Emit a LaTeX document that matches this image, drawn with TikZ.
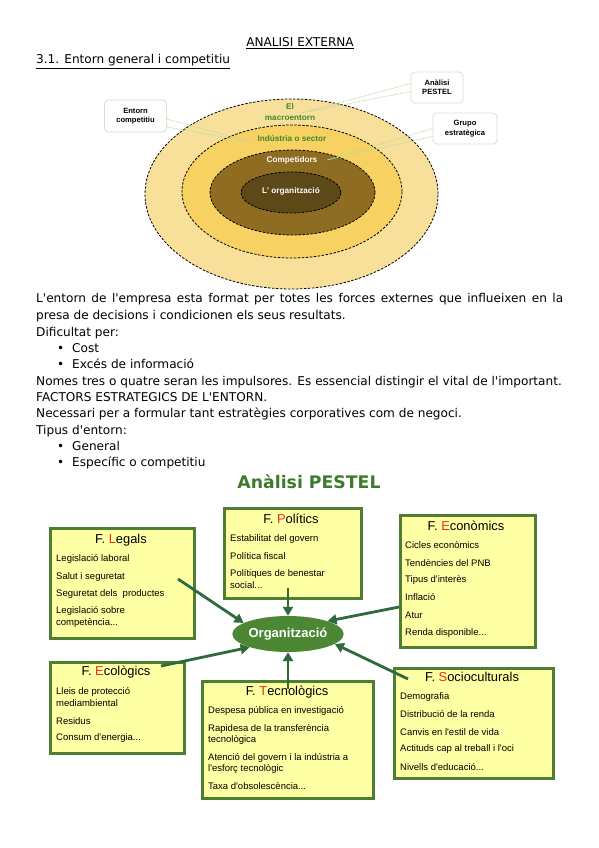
\documentclass[tikz,border=0pt]{standalone}
\usepackage{fontspec}
\setmainfont{DejaVu Sans}
\newfontfamily\arial{Liberation Sans}
\usetikzlibrary{arrows.meta,shapes.geometric,calc}
\definecolor{boxfill}{HTML}{FFFFA3}
\definecolor{boxline}{HTML}{4E7D34}
\definecolor{arrowc}{HTML}{2D6A3E}
\definecolor{redl}{HTML}{E8301C}
\definecolor{titleg}{HTML}{3D7B2C}
\definecolor{orgfill}{HTML}{4C8733}
\definecolor{ringA}{HTML}{F9E09A}
\definecolor{ringB}{HTML}{F7D161}
\definecolor{ringC}{HTML}{8E6C22}
\definecolor{ringD}{HTML}{5D4817}
\definecolor{labg}{HTML}{3C8C2A}
\definecolor{callb}{HTML}{D3E3CB}
\definecolor{calll}{HTML}{B5D8A5}
\newcommand\ap{\textquotesingle}
\begin{document}
\begin{tikzpicture}[x=1pt,y=-1pt,
  bodytext/.style={anchor=base west,inner sep=0pt,font=\fontsize{12.1}{14}\selectfont},
  ring/.style={ellipse,draw=black,dash pattern=on 2.5pt off 1.5pt,line width=0.8pt,inner sep=0pt},
  ringlab/.style={inner sep=0pt,font=\arial\bfseries\fontsize{8.2}{9}\selectfont},
  callbox/.style={draw=callb,line width=0.8pt,rounded corners=4pt,fill=white,align=center,inner sep=0pt,font=\arial\bfseries\fontsize{7.6}{9.4}\selectfont},
  callline/.style={draw=calll,dash pattern=on 2pt off 1pt,line width=0.6pt},
  fbox/.style={draw=boxline,line width=3.2pt,fill=boxfill,anchor=north west,inner sep=0pt},
  ftitle/.style={inner sep=0pt,font=\arial\fontsize{12.9}{14}\selectfont},
  fitem/.style={anchor=west,inner sep=0pt,font=\arial\fontsize{9.5}{10}\selectfont},
  farrow/.style={draw=arrowc,line width=2.8pt,-{Triangle[length=9pt,width=10pt]}}]
\useasboundingbox[fill=white] (0,0) rectangle (599,848);

% ---------- header ----------
\node[inner sep=0pt,anchor=base,font=\fontsize{12.1}{14}\selectfont] (hdr) at (300,47) {\underline{ANALISI EXTERNA}};
\node[bodytext] (sec) at (36,64) {\underline{3.1. Entorn general i competitiu}};

% ---------- rings ----------
\node[ring,fill=ringA,minimum width=293pt,minimum height=190pt] (macro) at (291.5,194) {};
\node[ring,fill=ringB,minimum width=220pt,minimum height=133pt] (sector) at (292,191.5) {};
\node[ring,fill=ringC,minimum width=165pt,minimum height=85pt] (comp) at (292.5,192.5) {};
\node[ring,fill=ringD,minimum width=100pt,minimum height=41pt] (org1) at (291,192.5) {};
\node[ringlab,text=labg] (el) at (290,107) {El};
\node[ringlab,text=labg] (macrol) at (290,118) {macroentorn};
\node[ringlab,text=labg] (sectl) at (292,139) {Indústria o sector};
\node[ringlab,text=white] (compl) at (292,160) {Competidors};
\node[ringlab,text=white] (orgl) at (291,191) {L' organització};

% ---------- callouts ----------
\node[callbox,minimum width=62pt,minimum height=32pt] (entorn) at (135.5,116) {Entorn\\competitiu};
\node[callbox,minimum width=52pt,minimum height=31pt] (pestelc) at (437,87.5) {Anàlisi\\PESTEL};
\node[callbox,minimum width=64pt,minimum height=31pt] (grupo) at (465,128.5) {Grupo\\estratègica};
\coordinate (pE) at (252,142);
\coordinate (pA) at (301,113);
\coordinate (pG) at (327,160);
\draw[callline] ($(entorn.east)+(0,3)$) -- (pE);
\draw[callline] ($(entorn.east)+(0,11)$) -- (pE);
\draw[callline] ($(pestelc.west)+(0,-4)$) -- (pA);
\draw[callline] ($(pestelc.west)+(0,4)$) -- (pA);
\draw[callline] ($(grupo.west)+(0,0)$) -- (pG);
\draw[callline] ($(grupo.west)+(0,8)$) -- (pG);

% ---------- body text ----------
\node[bodytext] (t1) at (36,302) {\makebox[527pt][s]{L\ap entorn de l\ap empresa esta format per totes les forces externes que influeixen en la}};
\node[bodytext] (t2) at (36,319) {presa de decisions i condicionen els seus resultats.};
\node[bodytext] (t3) at (36,336) {Dificultat per:};
\node[bodytext] (b1) at (57,352) {•};
\node[bodytext] (t4) at (72,352) {Cost};
\node[bodytext] (b2) at (57,368) {•};
\node[bodytext] (t5) at (72,368) {Excés de informació};
\node[bodytext] (t6) at (36,385) {Nomes tres o quatre seran les impulsores. Es essencial distingir el vital de l\ap important.};
\node[bodytext] (t7) at (36,401) {FACTORS ESTRATEGICS DE L\ap ENTORN.};
\node[bodytext] (t8) at (36,417) {Necessari per a formular tant estratègies corporatives com de negoci.};
\node[bodytext] (t9) at (36,434) {Tipus d\ap entorn:};
\node[bodytext] (b3) at (57,450) {•};
\node[bodytext] (t10) at (72,450) {General};
\node[bodytext] (b4) at (57,466) {•};
\node[bodytext] (t11) at (72,466) {Específic o competitiu};

% ---------- PESTEL ----------
\node[inner sep=0pt,text=titleg,font=\bfseries\fontsize{17.3}{20}\selectfont] (ptitle) at (309,482) {Anàlisi PESTEL};

\node[fbox,minimum width=144pt,minimum height=110pt] (legals) at (49,527) {};
\node[fbox,minimum width=137pt,minimum height=90pt] (polit) at (223,507) {};
\node[fbox,minimum width=135pt,minimum height=132pt] (econ) at (399,514) {};
\node[fbox,minimum width=134pt,minimum height=91pt] (ecol) at (49,661) {};
\node[fbox,minimum width=171pt,minimum height=117pt] (tecn) at (201,680) {};
\node[fbox,minimum width=159pt,minimum height=110pt] (socio) at (393,667) {};

\node[ftitle] (legalsT) at (121,540) {F. \textcolor{redl}{L}egals};
\node[fitem] at (56,559) {Legislació laboral};
\node[fitem] at (56,577) {Salut i seguretat};
\node[fitem] at (56,594) {Seguretat dels\ \ productes};
\node[fitem] at (56,611) {Legislació sobre};
\node[fitem] at (56,623) {competència...};

\node[ftitle] (politT) at (291,519) {F. \textcolor{redl}{P}olítics};
\node[fitem] at (230,539) {Estabilitat del govern};
\node[fitem] at (230,556) {Política fiscal};
\node[fitem] at (230,574) {Polítiques de benestar};
\node[fitem] at (230,585) {social...};

\node[ftitle] (econT) at (466,526) {F. \textcolor{redl}{E}conòmics};
\node[fitem] at (405,545) {Cicles econòmics};
\node[fitem] at (405,563) {Tendències del PNB};
\node[fitem] at (405,580) {Tipus d'interès};
\node[fitem] at (405,597) {Inflació};
\node[fitem] at (405,615) {Atur};
\node[fitem] at (405,633) {Renda disponible...};

\node[ftitle] (ecolT) at (116,672) {F. \textcolor{redl}{E}cològics};
\node[fitem] at (56,692) {Lleis de protecció};
\node[fitem] at (56,703) {mediambiental};
\node[fitem] at (56,721) {Residus};
\node[fitem] at (56,738) {Consum d'energia...};

\node[ftitle] (tecnT) at (287,692) {F. \textcolor{redl}{T}ecnològics};
\node[fitem] at (208,711) {Despesa pública en investigació};
\node[fitem] at (208,729) {Rapidesa de la transferència};
\node[fitem] at (208,740) {tecnològica};
\node[fitem] at (208,758) {Atenció del govern i la indústria a};
\node[fitem] at (208,769) {l'esforç tecnològic};
\node[fitem] at (208,786) {Taxa d'obsolescència...};

\node[ftitle] (socioT) at (472,677) {F. \textcolor{redl}{S}ocioculturals};
\node[fitem] at (400,697) {Demografia};
\node[fitem] at (400,714) {Distribució de la renda};
\node[fitem] at (400,732) {Canvis en l'estil de vida};
\node[fitem] at (400,749) {Actituds cap al treball i l'oci};
\node[fitem] at (400,767) {Nivells d'educació...};

\node[ellipse,fill=orgfill,minimum width=105pt,minimum height=36pt,inner sep=0pt,text=white,font=\arial\bfseries\fontsize{13}{15}\selectfont] (org) at (288,634) {Organització};

\coordinate (sL) at (178,579);
\coordinate (sP) at (288,588);
\coordinate (sE) at (399,607);
\coordinate (sEc) at (161,666);
\coordinate (sT) at (288,689);
\coordinate (sS) at (408,679);
\draw[farrow] (sL) -- (org.166);
\draw[farrow] (sP) -- (org.north);
\draw[farrow] (sE) -- (org.18);
\draw[farrow] (sEc) -- (org.199);
\draw[farrow] (sT) -- (org.south);
\draw[farrow] (sS) -- (org.-12);
\end{tikzpicture}
\end{document}
